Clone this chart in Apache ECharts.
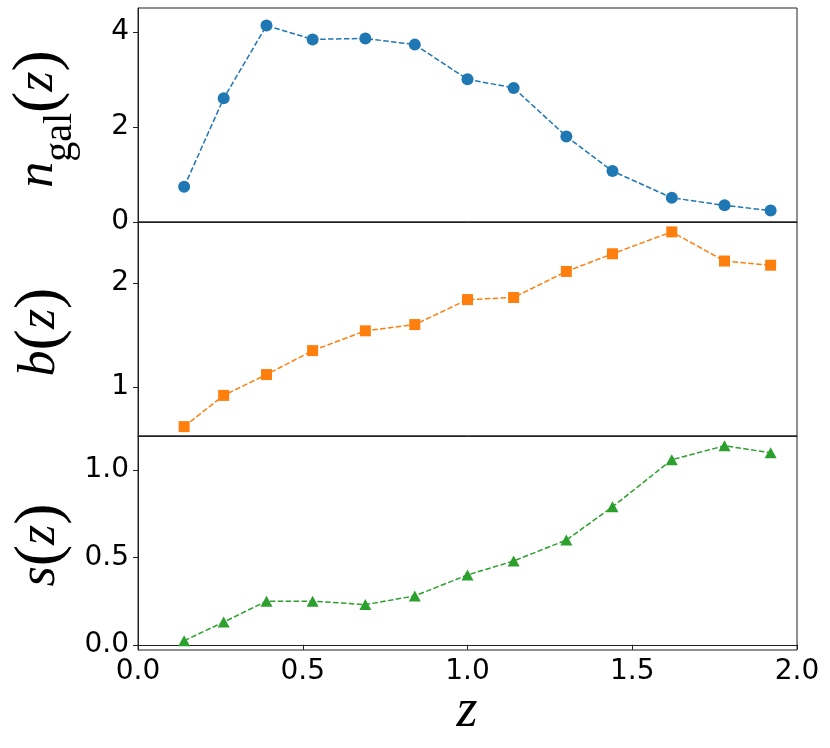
<!DOCTYPE html>
<html>
<head>
<meta charset="UTF-8">
<title>n_gal, b, s vs z</title>
<script src="https://cdn.jsdelivr.net/npm/echarts@6/dist/echarts.min.js"></script>
<style>
  html, body { margin: 0; padding: 0; background: #fff; }
  #chart { width: 830px; height: 748px; }
</style>
</head>
<body>
<div id="chart"></div>
<script>
// redshift bins (x)
var zBins = [0.14, 0.26, 0.39, 0.53, 0.69, 0.84, 1.0, 1.14, 1.3, 1.44, 1.62, 1.78, 1.92];
// galaxy number density per bin
var nGal = [0.74, 2.60, 4.13, 3.84, 3.86, 3.73, 3.00, 2.82, 1.80, 1.07, 0.51, 0.35, 0.24];
// galaxy bias
var bias = [0.62, 0.92, 1.12, 1.35, 1.54, 1.60, 1.84, 1.86, 2.11, 2.28, 2.49, 2.21, 2.17];
// magnification bias
var magBias = [0.023, 0.13, 0.25, 0.25, 0.23, 0.28, 0.40, 0.48, 0.60, 0.79, 1.06, 1.14, 1.10];

var xTicks = [0, 0.5, 1.0, 1.5, 2.0];
var nTicks = [0, 2, 4];
var bTicks = [1, 2];
var sTicks = [0, 0.5, 1.0];

function pairs(ys) {
    return zBins.map(function (z, i) { return [z, ys[i]]; });
}

var tickFont = { fontFamily: 'DejaVu Sans', fontSize: 28, color: '#000' };
var spine = '#222';
var mathRich = {
    i: { fontFamily: 'Liberation Serif', fontStyle: 'italic', fontSize: 52, lineHeight: 52, verticalAlign: 'top', padding: [8, 0, 0, 0], fill: '#000' },
    p: { fontFamily: 'Liberation Serif', fontSize: 64, lineHeight: 64, verticalAlign: 'top', padding: [3, 0, 0, 0], fill: '#000' },
    sub: { fontFamily: 'Liberation Serif', fontSize: 40, lineHeight: 40, verticalAlign: 'top', padding: [36, 0, 0, 0], fill: '#000' }
};

var chart = echarts.init(document.getElementById('chart'), null, { renderer: 'canvas' });

var grids = [
    { left: 138, width: 659, top: 8, height: 214 },
    { left: 138, width: 659, top: 222, height: 214 },
    { left: 138, width: 659, top: 436, height: 214 }
];
grids.forEach(function (g) {
    g.show = true;
    g.borderColor = spine;
    g.borderWidth = 1;
    g.backgroundColor = 'transparent';
});

function xAxisFor(idx, showLabels) {
    return {
        type: 'value', gridIndex: idx, min: 0, max: 2, interval: 0.5,
        axisLine: { show: true, lineStyle: { color: spine, width: 1 } },
        axisTick: { show: showLabels, length: 5, customValues: xTicks, lineStyle: { color: spine } },
        axisLabel: {
            show: showLabels, margin: 8, customValues: xTicks,
            fontFamily: tickFont.fontFamily, fontSize: tickFont.fontSize, color: tickFont.color,
            formatter: function (v) { return v.toFixed(1); }
        },
        splitLine: { show: false }
    };
}

function yAxisFor(idx, min, max, ticks, digits) {
    return {
        type: 'value', gridIndex: idx, min: min, max: max,
        axisLine: { show: true, lineStyle: { color: spine, width: 1 } },
        axisTick: { show: true, length: 5, customValues: ticks, lineStyle: { color: spine } },
        axisLabel: {
            margin: 9, customValues: ticks,
            fontFamily: tickFont.fontFamily, fontSize: tickFont.fontSize, color: tickFont.color,
            formatter: function (v) { return v.toFixed(digits); }
        },
        splitLine: { show: false }
    };
}

function lineSeries(idx, data, color, symbol, size) {
    return {
        type: 'line', xAxisIndex: idx, yAxisIndex: idx,
        data: data,
        symbol: symbol, symbolSize: size,
        itemStyle: { color: color },
        lineStyle: { color: color, width: 1.5, type: [5.5, 2.4] },
        animation: false
    };
}

chart.setOption({
    animation: false,
    grid: grids,
    xAxis: [xAxisFor(0, false), xAxisFor(1, false), xAxisFor(2, true)],
    yAxis: [
        yAxisFor(0, 0, 4.5, nTicks, 0),
        yAxisFor(1, 0.53, 2.585, bTicks, 0),
        yAxisFor(2, -0.03, 1.196, sTicks, 1)
    ],
    series: [
        lineSeries(0, pairs(nGal), '#1f77b4', 'circle', 12),
        lineSeries(1, pairs(bias), '#ff7f0e', 'rect', 11),
        lineSeries(2, pairs(magBias), '#2ca02c', 'triangle', [12, 11])
    ],
    graphic: [
        {
            type: 'text', x: 36, y: 119, rotation: Math.PI / 2,
            style: { text: '{i|n}{sub|gal}{p|(}{i|z}{p|)}', rich: mathRich, align: 'center', verticalAlign: 'middle' }
        },
        {
            type: 'text', x: 38, y: 332, rotation: Math.PI / 2,
            style: { text: '{i|b}{p|(}{i|z}{p|)}', rich: mathRich, align: 'center', verticalAlign: 'middle' }
        },
        {
            type: 'text', x: 38, y: 545, rotation: Math.PI / 2,
            style: { text: '{i|s}{p|(}{i|z}{p|)}', rich: mathRich, align: 'center', verticalAlign: 'middle' }
        },
        {
            type: 'text', x: 467, y: 712,
            style: { text: 'z', fontFamily: 'Liberation Serif', fontStyle: 'italic', fontSize: 54, fill: '#000', align: 'center', verticalAlign: 'middle' }
        }
    ]
});
</script>
</body>
</html>
